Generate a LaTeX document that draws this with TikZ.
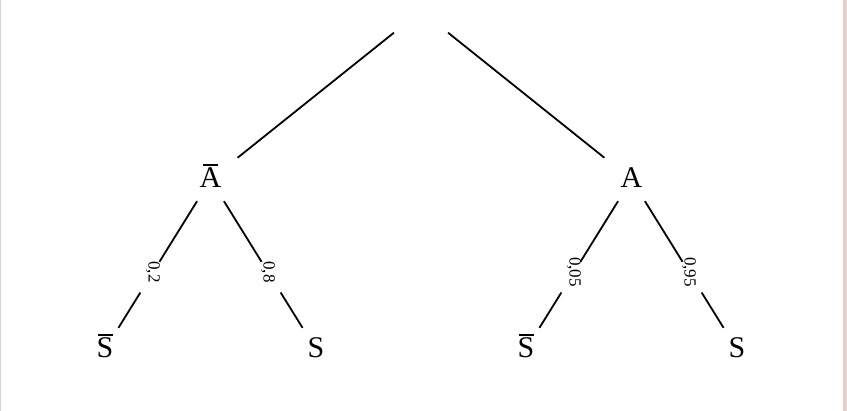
\documentclass[tikz,border=0pt]{standalone}
\usepackage{fontspec}
\setmainfont{Liberation Serif}
\definecolor{bandcol}{RGB}{224,208,208}
\newcommand\ovl[1]{\ooalign{#1\cr\hidewidth\raisebox{21.8pt}{\rule{15pt}{1.2pt}}\hidewidth\cr}}
\tikzset{
  tnode/.style={inner sep=0pt, minimum width=60pt, minimum height=43pt,
    text height=21.75pt, text depth=5.8pt, font=\fontsize{30}{35}\selectfont},
  edgeline/.style={draw=black, line width=1.8pt},
  gapdisc/.style={circle, fill=white, draw=none, inner sep=0pt, minimum size=36pt},
  problab/.style={rotate=-90, inner sep=0pt, font=\fontsize{17}{20}\selectfont},
  frameband/.style={fill=bandcol, draw=none}
}
\begin{document}
\begin{tikzpicture}[x=1pt,y=-1pt]
\useasboundingbox (0,0) rectangle (847,411);
\fill[white] (0,0) rectangle (847,411);
\fill[frameband] (0,0) rectangle (1.4,411);
\fill[frameband] (843,0) rectangle (847,411);

\node[tnode] (root) at (421,11) {};
\node[tnode] (Abar) at (210.5,179.5) {\ovl{A}};
\node[tnode] (A) at (631.5,179.5) {A};
\node[tnode] (L1) at (105,349.5) {\ovl{S}};
\node[tnode] (L2) at (316,349.5) {S};
\node[tnode] (L3) at (526,349.5) {\ovl{S}};
\node[tnode] (L4) at (737,349.5) {S};

\draw[edgeline] (root) -- (Abar);
\draw[edgeline] (root) -- (A);
\draw[edgeline] (Abar) -- node[gapdisc,pos=0.6]{} node[problab,pos=0.56]{0,2} (L1);
\draw[edgeline] (Abar) -- node[gapdisc,pos=0.6]{} node[problab,pos=0.56]{0,8} (L2);
\draw[edgeline] (A) -- node[gapdisc,pos=0.6]{} node[problab,pos=0.56]{0,05} (L3);
\draw[edgeline] (A) -- node[gapdisc,pos=0.6]{} node[problab,pos=0.56]{0,95} (L4);
\end{tikzpicture}
\end{document}
